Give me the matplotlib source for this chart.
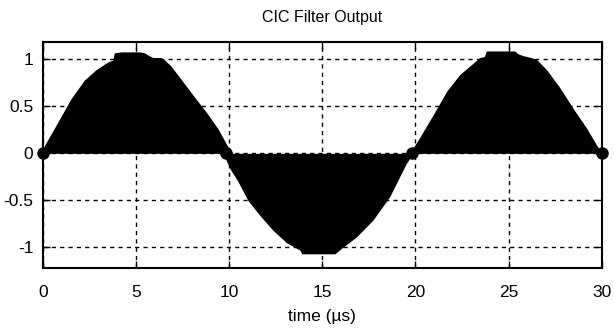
import matplotlib
matplotlib.use("Agg")
import matplotlib.pyplot as plt

# envelope of the CIC output (time in us, amplitude)
pos1_t = [0.0, 0.07, 0.79, 1.5, 2.22, 2.85, 3.3, 3.56, 3.75, 3.83, 4.2, 4.8, 5.2, 5.45, 5.7, 5.9, 6.34, 6.5, 6.87, 7.6, 8.13, 8.8, 9.4, 9.9, 10.2]
pos1_v = [0.0, 0.08, 0.33, 0.58, 0.78, 0.89, 0.95, 0.98, 0.99, 1.07, 1.08, 1.08, 1.08, 1.07, 1.04, 1.02, 1.02, 1.00, 0.93, 0.74, 0.60, 0.43, 0.26, 0.08, 0.0]

neg_t = [9.67, 10.03, 10.47, 11.0, 11.64, 12.35, 13.07, 13.79, 13.9, 14.5, 15.0, 15.67, 16.1, 16.83, 17.72, 18.62, 19.5, 19.87]
neg_v = [0.0, -0.16, -0.30, -0.50, -0.66, -0.82, -0.95, -1.03, -1.07, -1.07, -1.07, -1.07, -1.00, -0.89, -0.71, -0.46, -0.11, 0.0]

pos2_t = [19.69, 20.2, 20.95, 21.67, 22.38, 22.92, 23.45, 23.7, 23.8, 24.5, 25.0, 25.33, 25.5, 25.78, 26.2, 26.5, 27.04, 27.75, 28.46, 29.18, 29.72, 30.0]
pos2_v = [0.0, 0.16, 0.41, 0.66, 0.84, 0.93, 1.02, 1.03, 1.09, 1.09, 1.09, 1.09, 1.06, 1.04, 1.02, 1.00, 0.89, 0.70, 0.48, 0.27, 0.09, 0.0]

# stem heads that show at the baseline
dot_t = [0.0, 9.8, 19.8, 30.0]
dot_v = [0.0, 0.0, 0.0, 0.0]

xticks = [0, 5, 10, 15, 20, 25, 30]
yticks = [-1, -0.5, 0, 0.5, 1]
ytick_labels = ["-1", "-0.5", "0", "0.5", "1"]

plt.rcParams["font.family"] = ["Liberation Sans Narrow", "Liberation Sans", "DejaVu Sans"]

fig = plt.figure(figsize=(6.14, 3.32), dpi=100)
ax = fig.add_axes([0.070, 0.193, 0.910, 0.679])

ax.fill_between(pos1_t, 0, pos1_v, color="black", lw=0, zorder=3)
ax.fill_between(neg_t, 0, neg_v, color="black", lw=0, zorder=3)
ax.fill_between(pos2_t, 0, pos2_v, color="black", lw=0, zorder=3)
ax.plot(dot_t, dot_v, "o", color="black", ms=8, zorder=4, clip_on=False)

ax.set_xlim(0, 30)
ax.set_ylim(-1.22, 1.18)
ax.set_xticks(xticks)
ax.set_xticklabels([str(t) for t in xticks])
ax.set_yticks(yticks)
ax.set_yticklabels(ytick_labels)
ax.grid(True, color="black", linestyle=(0, (3, 3)), lw=1)
ax.set_axisbelow(True)
ax.tick_params(direction="in", length=5, width=1, top=True, right=True,
               labelsize=12.5)
ax.tick_params(axis="x", pad=12)
ax.tick_params(axis="y", pad=7)
for s in ax.spines.values():
    s.set_linewidth(1.5)

ax.set_title("CIC Filter Output", fontsize=11.5, pad=15)
ax.set_xlabel("time (µs)", fontsize=12.5, labelpad=7)

fig.savefig("out.png", dpi=100)
